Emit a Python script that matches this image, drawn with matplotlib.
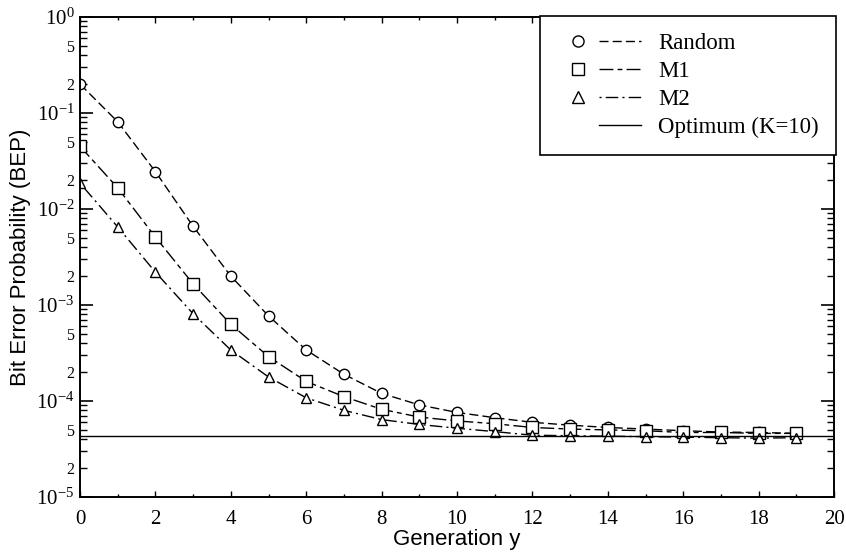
import matplotlib
matplotlib.use("Agg")
import matplotlib.pyplot as plt
from matplotlib.lines import Line2D
from matplotlib.legend_handler import HandlerTuple
import numpy as np

plt.rcParams['font.family'] = ['Liberation Serif', 'DejaVu Serif']
plt.rcParams['mathtext.fontset'] = 'custom'
plt.rcParams['mathtext.rm'] = 'Liberation Serif'
plt.rcParams['mathtext.it'] = 'Liberation Serif'

# generation index
Gen = list(range(0, 20))

# BEP values
Random = [0.2, 0.081, 0.0245, 0.0066, 0.0020, 7.7e-4, 3.4e-4, 1.9e-4, 1.2e-4, 9.1e-5,
          7.6e-5, 6.7e-5, 6.0e-5, 5.6e-5, 5.3e-5, 5.1e-5, 4.9e-5, 4.75e-5, 4.7e-5, 4.6e-5]
M1 = [0.045, 0.0166, 0.0051, 0.00166, 6.3e-4, 2.9e-4, 1.6e-4, 1.11e-4, 8.2e-5, 6.8e-5,
      6.2e-5, 5.8e-5, 5.3e-5, 5.1e-5, 5.0e-5, 4.9e-5, 4.7e-5, 4.7e-5, 4.6e-5, 4.6e-5]
M2 = [0.0186, 0.0065, 0.0022, 8.1e-4, 3.4e-4, 1.78e-4, 1.08e-4, 8.0e-5, 6.4e-5, 5.7e-5,
      5.2e-5, 4.8e-5, 4.4e-5, 4.35e-5, 4.3e-5, 4.25e-5, 4.2e-5, 4.15e-5, 4.1e-5, 4.15e-5]
Optimum = 4.3e-5

RandomDash = (0, (6.5, 3))
M1Dash = (0, (10, 3, 3.5, 3))
M2Dash = (0, (1.5, 3, 9, 3))

fig = plt.figure(figsize=(8.46, 5.54), dpi=100)
ax = fig.add_axes([80/846, 57/554, 754/846, 480/554])

ax.plot(Gen, Random, ls=RandomDash, c="black", lw=1.0, marker="o", ms=7.5,
        mfc="white", mec="black", mew=1.0)
ax.plot(Gen, M1, ls=M1Dash, c="black", lw=1.0, marker="s", ms=8.5,
        mfc="white", mec="black", mew=1.0)
ax.plot(Gen, M2, ls=M2Dash, c="black", lw=1.0, marker="^", ms=7.5,
        mfc="white", mec="black", mew=1.0)
ax.axhline(Optimum, c="black", lw=1.0)

ax.set_yscale("log")
ax.set_xlim(0, 20)
ax.set_ylim(1e-5, 1)

#Tick labels: decades as 10^n, plus 2 and 5 in between
Decades = [-5, -4, -3, -2, -1, 0]
ax.set_yticks([10.0**d for d in Decades])
ax.set_yticklabels([r"$10^{%d}$" % d for d in Decades], fontsize=15)
MinorY = []
MinorLabels = []
for d in Decades[:-1]:
    for k in range(2, 10):
        MinorY.append(k * 10.0**d)
        MinorLabels.append(str(k) if k in (2, 5) else "")
ax.set_yticks(MinorY, minor=True)
ax.set_yticklabels(MinorLabels, minor=True, fontsize=11.5)

ax.set_xticks(range(0, 21, 2))
ax.set_xticks(range(1, 20, 2), minor=True)
ax.set_xticklabels([str(v) for v in range(0, 21, 2)], fontsize=15)

ax.tick_params(axis="y", which="major", direction="in", length=9.5, width=1.2,
               left=True, right=True, pad=4)
ax.tick_params(axis="y", which="minor", direction="in", length=5, width=1.0,
               left=True, right=True, pad=4)
ax.tick_params(axis="x", which="major", direction="in", length=4, width=1.0,
               top=True, bottom=True, pad=9)
ax.tick_params(axis="x", which="minor", direction="in", length=2.5, width=1.0,
               top=True, bottom=True)
for s in ax.spines.values():
    s.set_linewidth(1.4)

ax.set_xlabel("Generation y", family="Liberation Sans", fontsize=16, labelpad=0)
ax.set_ylabel("Bit Error Probability (BEP)", family="Liberation Sans", fontsize=16, labelpad=4)

def Mk(m):
    return Line2D([], [], ls="none", marker=m, ms=8.5 if m == "s" else 8,
                  mfc="white", mec="black", mew=1.0)

Blank = Line2D([], [], ls="none", marker="o", ms=8, mfc="none", mec="none")
Handles = [
    (Mk("o"), Line2D([], [], ls=RandomDash, c="black", lw=1.0)),
    (Mk("s"), Line2D([], [], ls=M1Dash, c="black", lw=1.0)),
    (Mk("^"), Line2D([], [], ls=M2Dash, c="black", lw=1.0)),
    (Blank, Line2D([], [], ls="-", c="black", lw=1.0)),
]
Labels = ["Random", "M1", "M2", "Optimum (K=10)"]
leg = ax.legend(Handles, Labels, handler_map={tuple: HandlerTuple(ndivide=None, pad=0.0)},
                loc="upper right", bbox_to_anchor=(1.003, 1.003), borderaxespad=0,
                fontsize=16.5, handlelength=3.67, handletextpad=0.74, labelspacing=0.3,
                borderpad=0.75, fancybox=False, framealpha=1, edgecolor="black")
leg.get_frame().set_linewidth(1.2)

fig.savefig("out.png", dpi=100)
